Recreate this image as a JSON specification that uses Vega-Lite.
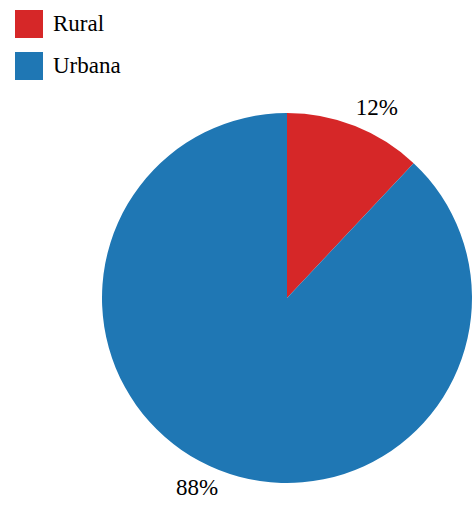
{
  "$schema": "https://vega.github.io/schema/vega-lite/v6.json",
  "autosize": {"type": "none"},
  "width": 370,
  "height": 370,
  "padding": {"left": 102, "top": 113, "right": 0, "bottom": 24},
  "background": "white",
  "data": {"values": [
    {"area": "Rural", "pct": 12, "label": "12%"},
    {"area": "Urbana", "pct": 88, "label": "88%"}
  ]},
  "encoding": {
    "theta": {"field": "pct", "type": "quantitative", "stack": true},
    "order": {"field": "area", "type": "nominal"}
  },
  "layer": [
    {
      "mark": {"type": "arc", "outerRadius": 185},
      "encoding": {
        "color": {
          "field": "area",
          "type": "nominal",
          "scale": {"domain": ["Rural", "Urbana"], "range": ["#d62728", "#1f77b4"]},
          "legend": {
            "title": null,
            "orient": "none",
            "legendX": -87,
            "legendY": -103,
            "symbolType": "square",
            "symbolSize": 784,
            "symbolStrokeWidth": 0,
            "labelFont": "'Liberation Serif', 'DejaVu Serif', serif",
            "labelFontSize": 23,
            "labelColor": "black",
            "labelOffset": 10,
            "rowPadding": 14
          }
        }
      }
    },
    {
      "mark": {"type": "text", "radius": 210, "thetaOffset": 0.065, "font": "'Liberation Serif', 'DejaVu Serif', serif", "fontSize": 23, "color": "black"},
      "encoding": {"text": {"field": "label"}}
    }
  ],
  "config": {"view": {"stroke": null}}
}
